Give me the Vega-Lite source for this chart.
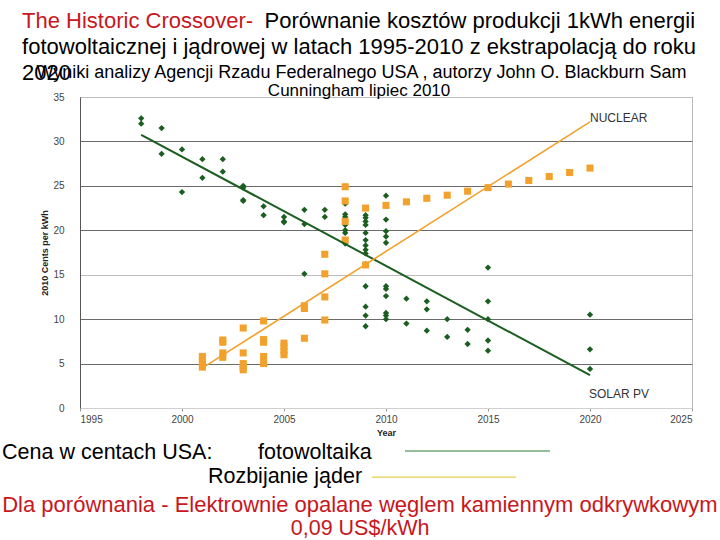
{
  "$schema": "https://vega.github.io/schema/vega-lite/v6.json",
  "width": 612,
  "height": 311,
  "autosize": "none",
  "padding": {"left": 80, "top": 97, "right": 28, "bottom": 132},
  "background": "white",
  "config": {
    "font": "Liberation Sans",
    "view": {"stroke": "#b8b8b8", "strokeWidth": 1},
    "text": {"font": "Liberation Sans"}
  },
  "data": {"values": [{"note": "annotation"}]},
  "datasets": {
    "points": [
      {"type": "Solar PV", "year": 1998, "cents": 32.6},
      {"type": "Solar PV", "year": 1998, "cents": 32.0},
      {"type": "Solar PV", "year": 1999, "cents": 31.5},
      {"type": "Solar PV", "year": 1999, "cents": 28.6},
      {"type": "Solar PV", "year": 2000, "cents": 29.1},
      {"type": "Solar PV", "year": 2000, "cents": 24.3},
      {"type": "Solar PV", "year": 2001, "cents": 28.0},
      {"type": "Solar PV", "year": 2001, "cents": 25.9},
      {"type": "Solar PV", "year": 2002, "cents": 28.0},
      {"type": "Solar PV", "year": 2002, "cents": 26.6},
      {"type": "Solar PV", "year": 2003, "cents": 25.0},
      {"type": "Solar PV", "year": 2003, "cents": 24.8},
      {"type": "Solar PV", "year": 2003, "cents": 23.4},
      {"type": "Solar PV", "year": 2003, "cents": 23.3},
      {"type": "Solar PV", "year": 2004, "cents": 22.7},
      {"type": "Solar PV", "year": 2004, "cents": 21.7},
      {"type": "Solar PV", "year": 2005, "cents": 21.5},
      {"type": "Solar PV", "year": 2005, "cents": 21.0},
      {"type": "Solar PV", "year": 2005, "cents": 20.9},
      {"type": "Solar PV", "year": 2006, "cents": 22.3},
      {"type": "Solar PV", "year": 2006, "cents": 20.7},
      {"type": "Solar PV", "year": 2006, "cents": 15.1},
      {"type": "Solar PV", "year": 2007, "cents": 22.3},
      {"type": "Solar PV", "year": 2007, "cents": 21.5},
      {"type": "Solar PV", "year": 2008, "cents": 23.0},
      {"type": "Solar PV", "year": 2008, "cents": 21.8},
      {"type": "Solar PV", "year": 2008, "cents": 21.5},
      {"type": "Solar PV", "year": 2008, "cents": 20.6},
      {"type": "Solar PV", "year": 2008, "cents": 20.0},
      {"type": "Solar PV", "year": 2008, "cents": 19.7},
      {"type": "Solar PV", "year": 2008, "cents": 18.5},
      {"type": "Solar PV", "year": 2009, "cents": 21.7},
      {"type": "Solar PV", "year": 2009, "cents": 21.4},
      {"type": "Solar PV", "year": 2009, "cents": 21.0},
      {"type": "Solar PV", "year": 2009, "cents": 20.6},
      {"type": "Solar PV", "year": 2009, "cents": 19.7},
      {"type": "Solar PV", "year": 2009, "cents": 18.9},
      {"type": "Solar PV", "year": 2009, "cents": 18.3},
      {"type": "Solar PV", "year": 2009, "cents": 17.8},
      {"type": "Solar PV", "year": 2009, "cents": 17.4},
      {"type": "Solar PV", "year": 2009, "cents": 16.2},
      {"type": "Solar PV", "year": 2009, "cents": 13.7},
      {"type": "Solar PV", "year": 2009, "cents": 11.4},
      {"type": "Solar PV", "year": 2009, "cents": 10.4},
      {"type": "Solar PV", "year": 2009, "cents": 9.2},
      {"type": "Solar PV", "year": 2010, "cents": 23.9},
      {"type": "Solar PV", "year": 2010, "cents": 21.2},
      {"type": "Solar PV", "year": 2010, "cents": 19.9},
      {"type": "Solar PV", "year": 2010, "cents": 19.3},
      {"type": "Solar PV", "year": 2010, "cents": 18.6},
      {"type": "Solar PV", "year": 2010, "cents": 13.7},
      {"type": "Solar PV", "year": 2010, "cents": 13.4},
      {"type": "Solar PV", "year": 2010, "cents": 12.6},
      {"type": "Solar PV", "year": 2010, "cents": 10.7},
      {"type": "Solar PV", "year": 2010, "cents": 10.4},
      {"type": "Solar PV", "year": 2010, "cents": 10.0},
      {"type": "Solar PV", "year": 2011, "cents": 12.3},
      {"type": "Solar PV", "year": 2011, "cents": 9.5},
      {"type": "Solar PV", "year": 2012, "cents": 12.0},
      {"type": "Solar PV", "year": 2012, "cents": 11.1},
      {"type": "Solar PV", "year": 2012, "cents": 8.7},
      {"type": "Solar PV", "year": 2013, "cents": 10.0},
      {"type": "Solar PV", "year": 2013, "cents": 8.0},
      {"type": "Solar PV", "year": 2014, "cents": 8.8},
      {"type": "Solar PV", "year": 2014, "cents": 7.2},
      {"type": "Solar PV", "year": 2015, "cents": 15.8},
      {"type": "Solar PV", "year": 2015, "cents": 12.0},
      {"type": "Solar PV", "year": 2015, "cents": 10.0},
      {"type": "Solar PV", "year": 2015, "cents": 7.6},
      {"type": "Solar PV", "year": 2015, "cents": 6.45},
      {"type": "Solar PV", "year": 2020, "cents": 10.5},
      {"type": "Solar PV", "year": 2020, "cents": 6.6},
      {"type": "Solar PV", "year": 2020, "cents": 4.4},
      {"type": "Nuclear", "year": 2001, "cents": 5.8},
      {"type": "Nuclear", "year": 2001, "cents": 5.2},
      {"type": "Nuclear", "year": 2001, "cents": 5.0},
      {"type": "Nuclear", "year": 2001, "cents": 4.6},
      {"type": "Nuclear", "year": 2002, "cents": 7.65},
      {"type": "Nuclear", "year": 2002, "cents": 7.4},
      {"type": "Nuclear", "year": 2002, "cents": 6.2},
      {"type": "Nuclear", "year": 2002, "cents": 5.7},
      {"type": "Nuclear", "year": 2003, "cents": 9.0},
      {"type": "Nuclear", "year": 2003, "cents": 6.2},
      {"type": "Nuclear", "year": 2003, "cents": 5.0},
      {"type": "Nuclear", "year": 2003, "cents": 4.6},
      {"type": "Nuclear", "year": 2003, "cents": 4.3},
      {"type": "Nuclear", "year": 2004, "cents": 9.8},
      {"type": "Nuclear", "year": 2004, "cents": 7.7},
      {"type": "Nuclear", "year": 2004, "cents": 7.4},
      {"type": "Nuclear", "year": 2004, "cents": 5.8},
      {"type": "Nuclear", "year": 2004, "cents": 5.0},
      {"type": "Nuclear", "year": 2005, "cents": 7.3},
      {"type": "Nuclear", "year": 2005, "cents": 6.9},
      {"type": "Nuclear", "year": 2005, "cents": 6.4},
      {"type": "Nuclear", "year": 2005, "cents": 6.0},
      {"type": "Nuclear", "year": 2006, "cents": 11.5},
      {"type": "Nuclear", "year": 2006, "cents": 11.2},
      {"type": "Nuclear", "year": 2006, "cents": 7.85},
      {"type": "Nuclear", "year": 2007, "cents": 17.3},
      {"type": "Nuclear", "year": 2007, "cents": 15.1},
      {"type": "Nuclear", "year": 2007, "cents": 12.5},
      {"type": "Nuclear", "year": 2007, "cents": 9.9},
      {"type": "Nuclear", "year": 2008, "cents": 24.9},
      {"type": "Nuclear", "year": 2008, "cents": 23.3},
      {"type": "Nuclear", "year": 2008, "cents": 21.0},
      {"type": "Nuclear", "year": 2008, "cents": 18.9},
      {"type": "Nuclear", "year": 2009, "cents": 22.5},
      {"type": "Nuclear", "year": 2009, "cents": 16.1},
      {"type": "Nuclear", "year": 2010, "cents": 22.8},
      {"type": "Nuclear", "year": 2011, "cents": 23.2},
      {"type": "Nuclear", "year": 2012, "cents": 23.6},
      {"type": "Nuclear", "year": 2013, "cents": 23.95},
      {"type": "Nuclear", "year": 2014, "cents": 24.4},
      {"type": "Nuclear", "year": 2015, "cents": 24.8},
      {"type": "Nuclear", "year": 2016, "cents": 25.2},
      {"type": "Nuclear", "year": 2017, "cents": 25.6},
      {"type": "Nuclear", "year": 2018, "cents": 26.05},
      {"type": "Nuclear", "year": 2019, "cents": 26.5},
      {"type": "Nuclear", "year": 2020, "cents": 27.0}
    ],
    "trends": [
      {"type": "Solar PV", "year": 1998, "cents": 30.75},
      {"type": "Solar PV", "year": 2020, "cents": 3.7},
      {"type": "Nuclear", "year": 2001.1, "cents": 4.65},
      {"type": "Nuclear", "year": 2020, "cents": 32.2}
    ]
  },
  "layer": [
    {
      "data": {"name": "points"},
      "mark": {"type": "point", "filled": true, "opacity": 1},
      "encoding": {
        "x": {
          "field": "year", "type": "quantitative",
          "scale": {"domain": [1995, 2025], "nice": false, "zero": false},
          "axis": {
            "title": "Year", "values": [1995, 2000, 2005, 2010, 2015, 2020, 2025], "format": "d",
            "grid": false, "domainColor": "#d0d0d0", "tickColor": "#999", "tickSize": 3,
            "labelFontSize": 10, "labelColor": "#444", "labelPadding": 3,
            "titleFontSize": 9, "titleFontWeight": "bold", "titleColor": "#222", "titlePadding": 4
          }
        },
        "y": {
          "field": "cents", "type": "quantitative",
          "scale": {"domain": [0, 35], "nice": false, "zero": true},
          "axis": {
            "title": "2010 Cents per kWh", "values": [0, 5, 10, 15, 20, 25, 30, 35],
            "grid": true,
            "gridColor": {"condition": {"test": "datum.value == 15 || datum.value == 35 || datum.value == 0", "value": "#bdbdbd"}, "value": "#6a6a6a"},
            "gridWidth": 1.2,
            "domainColor": "#555", "ticks": false, "labelPadding": 16,
            "labelFontSize": 10, "labelColor": "#444",
            "titleFontSize": 9, "titleFontWeight": "bold", "titleColor": "#222", "titlePadding": 3
          }
        },
        "color": {
          "field": "type", "type": "nominal",
          "scale": {"domain": ["Solar PV", "Nuclear"], "range": ["#1b5e20", "#f2a22c"]},
          "legend": null
        },
        "shape": {
          "field": "type", "type": "nominal",
          "scale": {"domain": ["Solar PV", "Nuclear"], "range": ["diamond", "square"]},
          "legend": null
        },
        "size": {
          "field": "type", "type": "nominal",
          "scale": {"domain": ["Solar PV", "Nuclear"], "range": [40, 50]},
          "legend": null
        },
        "order": {"field": "type", "sort": "descending"}
      }
    },
    {
      "data": {"name": "trends"},
      "mark": {"type": "line"},
      "encoding": {
        "x": {"field": "year", "type": "quantitative"},
        "y": {"field": "cents", "type": "quantitative"},
        "color": {"field": "type", "type": "nominal", "legend": null},
        "strokeWidth": {"field": "type", "type": "nominal", "scale": {"domain": ["Solar PV", "Nuclear"], "range": [2, 1.6]}, "legend": null}
      }
    },
    {
      "mark": {"type": "text", "text": "NUCLEAR", "align": "left", "fontSize": 12, "color": "#333"},
      "encoding": {"x": {"datum": 2020.0, "type": "quantitative"}, "y": {"datum": 32.6, "type": "quantitative"}}
    },
    {
      "mark": {"type": "text", "text": "SOLAR PV", "align": "left", "fontSize": 12, "color": "#333"},
      "encoding": {"x": {"datum": 2019.95, "type": "quantitative"}, "y": {"datum": 1.6, "type": "quantitative"}}
    },
    {
      "mark": {"type": "text", "text": "The Historic Crossover-", "align": "left", "fontSize": 22, "color": "#c8161d"},
      "encoding": {"x": {"datum": 1992.16, "type": "quantitative"}, "y": {"datum": 43.5, "type": "quantitative"}}
    },
    {
      "mark": {"type": "text", "text": "Porównanie kosztów produkcji 1kWh energii", "align": "right", "fontSize": 22, "color": "black"},
      "encoding": {"x": {"datum": 2025.15, "type": "quantitative"}, "y": {"datum": 43.5, "type": "quantitative"}}
    },
    {
      "mark": {"type": "text", "text": "fotowoltaicznej i jądrowej w latach 1995-2010 z ekstrapolacją do roku", "align": "left", "fontSize": 22, "color": "black"},
      "encoding": {"x": {"datum": 1992.16, "type": "quantitative"}, "y": {"datum": 40.65, "type": "quantitative"}}
    },
    {
      "mark": {"type": "text", "text": "2020", "align": "left", "fontSize": 22, "color": "black"},
      "encoding": {"x": {"datum": 1992.16, "type": "quantitative"}, "y": {"datum": 37.7, "type": "quantitative"}}
    },
    {
      "mark": {"type": "text", "text": "Wyniki analizy Agencji Rzadu Federalnego  USA , autorzy John O. Blackburn Sam", "align": "center", "fontSize": 18, "color": "black"},
      "encoding": {"x": {"datum": 2008.8, "type": "quantitative"}, "y": {"datum": 37.7, "type": "quantitative"}}
    },
    {
      "mark": {"type": "text", "text": "Cunningham lipiec 2010", "align": "center", "fontSize": 17, "color": "black"},
      "encoding": {"x": {"datum": 2008.68, "type": "quantitative"}, "y": {"datum": 35.7, "type": "quantitative"}}
    },
    {
      "mark": {"type": "text", "text": "Cena w centach USA:", "align": "left", "fontSize": 21.5, "color": "black"},
      "encoding": {"x": {"datum": 1991.18, "type": "quantitative"}, "y": {"datum": -5.07, "type": "quantitative"}}
    },
    {
      "mark": {"type": "text", "text": "fotowoltaika", "align": "left", "fontSize": 21.5, "color": "black"},
      "encoding": {"x": {"datum": 2003.73, "type": "quantitative"}, "y": {"datum": -5.07, "type": "quantitative"}}
    },
    {
      "mark": {"type": "text", "text": "Rozbijanie jąder", "align": "left", "fontSize": 21.5, "color": "black"},
      "encoding": {"x": {"datum": 2001.27, "type": "quantitative"}, "y": {"datum": -7.77, "type": "quantitative"}}
    },
    {
      "mark": {"type": "text", "text": "Dla porównania - Elektrownie opalane węglem kamiennym odkrywkowym", "align": "center", "fontSize": 22, "color": "#c8161d"},
      "encoding": {"x": {"datum": 2008.72, "type": "quantitative"}, "y": {"datum": -10.92, "type": "quantitative"}}
    },
    {
      "mark": {"type": "text", "text": "0,09 US$/kWh", "align": "center", "fontSize": 21.5, "color": "#c8161d"},
      "encoding": {"x": {"datum": 2008.73, "type": "quantitative"}, "y": {"datum": -13.6, "type": "quantitative"}}
    },
    {
      "mark": {"type": "rule", "color": "#2e7d32", "strokeWidth": 1.2},
      "encoding": {"x": {"datum": 2010.93, "type": "quantitative"}, "x2": {"datum": 2018.04}, "y": {"datum": -4.84, "type": "quantitative"}}
    },
    {
      "mark": {"type": "rule", "color": "#e6cf4a", "strokeWidth": 1.2},
      "encoding": {"x": {"datum": 2009.31, "type": "quantitative"}, "x2": {"datum": 2016.37}, "y": {"datum": -7.77, "type": "quantitative"}}
    }
  ]
}
